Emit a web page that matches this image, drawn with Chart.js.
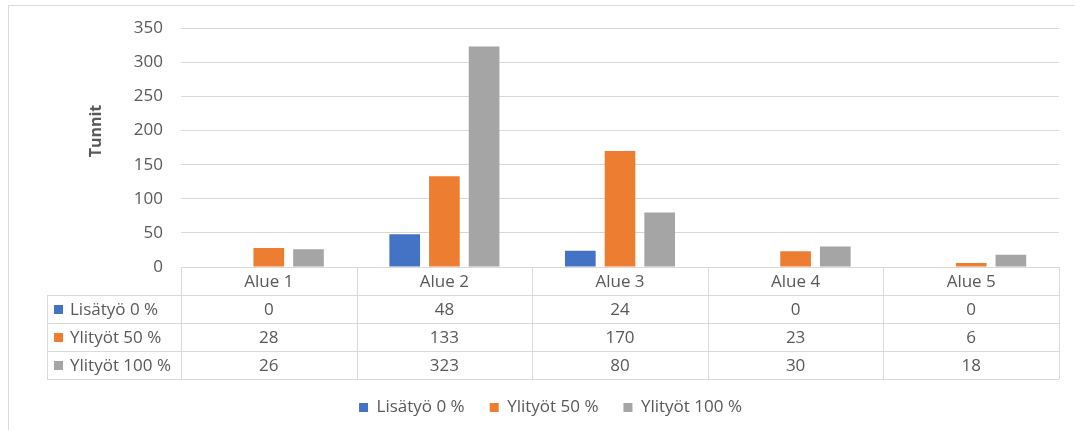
<!DOCTYPE html>
<html>
<head>
<meta charset="utf-8">
<script src="https://cdn.jsdelivr.net/npm/chart.js@4"></script>
<style>
  html, body { margin: 0; padding: 0; background: #fff; }
  #c { display: block; }
</style>
</head>
<body>
<canvas id="c" width="1075" height="430"></canvas>
<script>
const categories = ['Alue 1', 'Alue 2', 'Alue 3', 'Alue 4', 'Alue 5'];
const seriesNames = ['Lisätyö 0 %', 'Ylityöt 50 %', 'Ylityöt 100 %'];
const lisatyo0 = [0, 48, 24, 0, 0];
const ylityot50 = [28, 133, 170, 23, 6];
const ylityot100 = [26, 323, 80, 30, 18];
const seriesColors = ['#4472C4', '#ED7D31', '#A5A5A5'];
const yAxisTitle = 'Tunnit';
const yMin = 0, yMax = 350, yStep = 50;

const FONT = '"Open Sans", "Liberation Sans", sans-serif';
const TEXT = '#595959';
const LINE = '#d9d9d9';
const PAD_BOTTOM = 4;
const PLOT_BOTTOM = 267;
const LEGEND_SHIFT = 21;

const seriesValues = [lisatyo0, ylityot50, ylityot100];

const tablePlugin = {
  id: 'excelDataTable',
  afterLayout(chart) {
    const lg = chart.legend;
    if (lg && !lg._shifted) {
      lg.left += LEGEND_SHIFT;
      lg.right += LEGEND_SHIFT;
    }
  },
  beforeDraw(chart) {
    const ctx = chart.ctx;
    ctx.save();
    ctx.strokeStyle = LINE;
    ctx.lineWidth = 1;
    ctx.strokeRect(8.5, 5.5, 1200, 1000);
    ctx.restore();
  },
  afterDraw(chart) {
    const ctx = chart.ctx;
    const area = chart.chartArea;
    const x = chart.scales.x;
    const rowH = 28;
    const labelLeft = 47;
    const top = area.bottom;
    const catW = (area.right - area.left) / categories.length;
    const px = v => Math.round(v) + 0.5;
    ctx.save();
    ctx.strokeStyle = LINE;
    ctx.lineWidth = 1;
    ctx.beginPath();
    ctx.moveTo(area.left, px(top)); ctx.lineTo(area.right, px(top));
    for (let r = 1; r <= seriesValues.length + 1; r++) {
      const y = px(top + r * rowH);
      ctx.moveTo(labelLeft, y); ctx.lineTo(area.right, y);
    }
    for (let i = 0; i <= categories.length; i++) {
      const xx = px(area.left + i * catW);
      ctx.moveTo(xx, top); ctx.lineTo(xx, top + (seriesValues.length + 1) * rowH);
    }
    ctx.moveTo(px(labelLeft), top + rowH); ctx.lineTo(px(labelLeft), top + (seriesValues.length + 1) * rowH);
    ctx.stroke();

    ctx.fillStyle = TEXT;
    ctx.font = '17px ' + FONT;
    ctx.textBaseline = 'middle';
    ctx.textAlign = 'center';
    categories.forEach((c, i) => {
      ctx.fillText(c, x.getPixelForValue(i), top + rowH / 2 + 1);
    });
    seriesValues.forEach((vals, r) => {
      const cy = top + (r + 1) * rowH + rowH / 2 + 1;
      ctx.fillStyle = seriesColors[r];
      ctx.fillRect(54, Math.round(cy - 5), 9, 9);
      ctx.fillStyle = TEXT;
      ctx.textAlign = 'left';
      ctx.fillText(seriesNames[r], 70, cy);
      ctx.textAlign = 'center';
      vals.forEach((v, i) => ctx.fillText(String(v), x.getPixelForValue(i), cy));
    });

    ctx.save();
    ctx.translate(96, 131);
    ctx.rotate(-Math.PI / 2);
    ctx.font = 'bold 16px ' + FONT;
    ctx.textAlign = 'center';
    ctx.textBaseline = 'middle';
    ctx.fillText(yAxisTitle, 0, 0);
    ctx.restore();
    ctx.restore();
  }
};

new Chart(document.getElementById('c'), {
  type: 'bar',
  data: {
    labels: categories,
    datasets: seriesNames.map((n, i) => ({
      label: n,
      data: seriesValues[i],
      backgroundColor: seriesColors[i],
      borderWidth: 0,
      categoryPercentage: 0.678,
      barPercentage: 0.773
    }))
  },
  options: {
    responsive: false,
    animation: false,
    layout: { padding: { left: 0, right: 16, top: 27, bottom: PAD_BOTTOM } },
    plugins: {
      legend: {
        position: 'bottom',
        labels: {
          boxWidth: 9, boxHeight: 9, padding: 25,
          color: TEXT,
          font: { family: FONT, size: 17 }
        }
      },
      tooltip: { enabled: false }
    },
    scales: {
      x: {
        ticks: { display: false },
        grid: { display: false },
        border: { display: false },
        afterFit(s) {
          const lg = s.chart.legend;
          const lh = lg ? lg.height : 0;
          s.height = Math.max(0, s.chart.height - PAD_BOTTOM - lh - PLOT_BOTTOM);
        }
      },
      y: {
        min: yMin, max: yMax,
        ticks: { stepSize: yStep, padding: 18, color: TEXT, font: { family: FONT, size: 17 } },
        grid: { color: LINE, lineWidth: 1, drawTicks: false },
        border: { display: false },
        afterFit(s) { s.width = 181; }
      }
    }
  },
  plugins: [tablePlugin]
});
</script>
</body>
</html>
